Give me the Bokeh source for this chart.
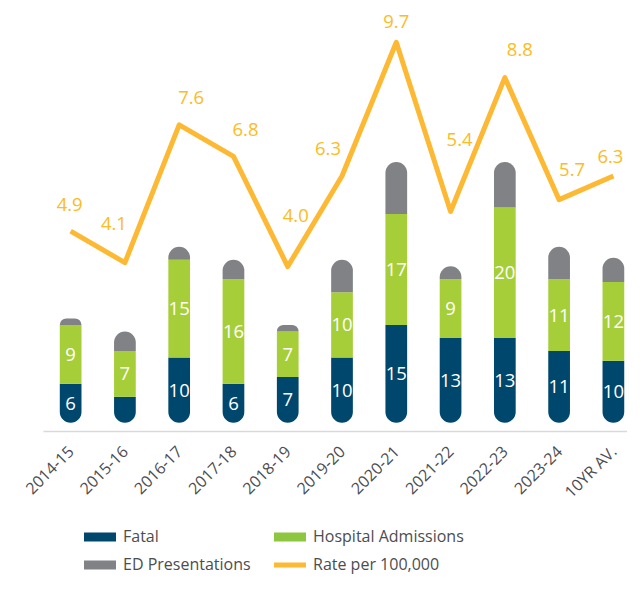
import math
from bokeh.plotting import figure
from bokeh.layouts import column
from bokeh.models import Range1d, FixedTicker, Legend, LegendItem, ColumnDataSource
from bokeh.core.properties import value
from bokeh.embed import file_html
from bokeh.resources import INLINE

# ---- data ----
categories = ["2014-15", "2015-16", "2016-17", "2017-18", "2018-19", "2019-20",
              "2020-21", "2021-22", "2022-23", "2023-24", "10YR AV."]
fatal = [6, 4, 10, 6, 7, 10, 15, 13, 13, 11, 9.5]
hospital = [9, 7, 15, 16, 7, 10, 17, 9, 20, 11, 12.1]
ed = [1, 3, 2, 3, 1, 5, 8, 2, 7, 5, 3.7]
rate = [4.9, 4.1, 7.6, 6.8, 4.0, 6.3, 9.7, 5.4, 8.8, 5.7, 6.3]
series_names = ["Fatal", "Hospital Admissions", "ED Presentations", "Rate per 100,000"]

# ---- label placement (pixels, style only) ----
rate_dx = [-1, -11, 12, 12, 8, -14, 0, 9, 15, 13, -3]
rate_dy = [-27, -39, -27, -27, -51, -28, -21, -72, -28, -30, -20]

NAVY = "#00476E"
GREEN = "#A6CE39"
GREY = "#808285"
ORANGE = "#FDB933"
LABEL_ORANGE = "#FDBB24"
TEXT_GREY = "#4D4D4F"
FONT = "Open Sans"

x = list(range(len(categories)))
hosp_top = [f + h for f, h in zip(fatal, hospital)]
ed_top = [t + e for t, e in zip(hosp_top, ed)]

src = ColumnDataSource(dict(
    x=x, fatal=fatal, hosp_top=hosp_top, ed_top=ed_top,
    fatal_mid=[f / 2 for f in fatal],
    hosp_mid=[f + h / 2 for f, h in zip(fatal, hospital)],
    fatal_lbl=[f"{v:.0f}" if v >= 5 else "" for v in fatal],
    hosp_lbl=[f"{v:.0f}" if v >= 5 else "" for v in hospital],
    rate=rate, rate_lbl=[f"{r:.1f}" for r in rate],
    dx=rate_dx, dy=rate_dy,
))

p = figure(width=627, height=513, output_backend="svg", toolbar_location=None,
           x_range=Range1d(-0.5, 10.26), y_range=Range1d(-1.34, 64.76),
           min_border_left=43, min_border_right=0, min_border_top=0,
           min_border_bottom=80)
p.extra_y_ranges = {"rate": Range1d(-0.19, 10.76)}
p.outline_line_color = None
p.xgrid.visible = False
p.ygrid.visible = False
p.yaxis.visible = False

ax = p.xaxis[0]
ax.ticker = FixedTicker(ticks=x)
ax.major_label_overrides = {i: c for i, c in zip(x, categories)}
ax.major_label_orientation = math.pi / 4
ax.major_tick_line_color = None
ax.minor_tick_line_color = None
ax.axis_line_color = "#D9D9D9"
ax.axis_line_width = 1.5
ax.major_label_text_font = FONT
ax.major_label_text_font_size = "16px"
ax.major_label_text_color = TEXT_GREY
ax.major_label_standoff = 11

BW = 0.4
p.vbar(x="x", bottom=0, top="fatal", width=BW, source=src, fill_color=NAVY,
       line_color=None, border_radius=(0, 0, 11, 11))
p.vbar(x="x", bottom="fatal", top="hosp_top", width=BW, source=src,
       fill_color=GREEN, line_color=None)
p.vbar(x="x", bottom="hosp_top", top="ed_top", width=BW, source=src,
       fill_color=GREY, line_color=None, border_radius=(11, 11, 0, 0))

p.text(x="x", y="fatal_mid", text="fatal_lbl", source=src, text_align="center",
       text_baseline="middle", text_color="white", text_font=value(FONT),
       text_font_size="18.5px")
p.text(x="x", y="hosp_mid", text="hosp_lbl", source=src, text_align="center",
       text_baseline="middle", text_color="white", text_font=value(FONT),
       text_font_size="18.5px")

p.line(x="x", y="rate", source=src, y_range_name="rate", line_color=ORANGE,
       line_width=5, line_join="round")
p.text(x="x", y="rate", text="rate_lbl", source=src, y_range_name="rate",
       x_offset="dx", y_offset="dy", text_align="center", text_baseline="middle",
       text_color=LABEL_ORANGE, text_font=value(FONT), text_font_size="18.5px")

# ---- legend strip below the chart ----
q = figure(width=627, height=63, output_backend="svg", toolbar_location=None,
           x_range=Range1d(0, 1), y_range=Range1d(0, 1),
           min_border_left=0, min_border_right=0, min_border_top=0,
           min_border_bottom=0)
q.axis.visible = False
q.xgrid.visible = False
q.ygrid.visible = False
q.outline_line_color = None

swatch_colors = [NAVY, "#8DC63F", GREY, ORANGE]
swatch_widths = [9, 9, 9, 5]
# single-point lines draw nothing in the strip; they only supply legend swatches
swatches = [q.line([-1], [-1], line_color=c, line_width=w, line_cap="round")
            for c, w in zip(swatch_colors, swatch_widths)]

legend = Legend(items=[LegendItem(label=n, renderers=[r])
                       for n, r in zip(series_names, swatches)],
                location=(41, 1), orientation="horizontal", ncols=2,
                glyph_width=32, glyph_height=21, label_standoff=7, label_width=145,
                label_height=21, spacing=6, padding=0, margin=0,
                border_line_color=None, background_fill_alpha=0,
                label_text_font=FONT, label_text_font_size="16px",
                label_text_color=TEXT_GREY)
q.add_layout(legend)

page = column(p, q, spacing=0)
open("out.html", "w").write(file_html(page, INLINE))
